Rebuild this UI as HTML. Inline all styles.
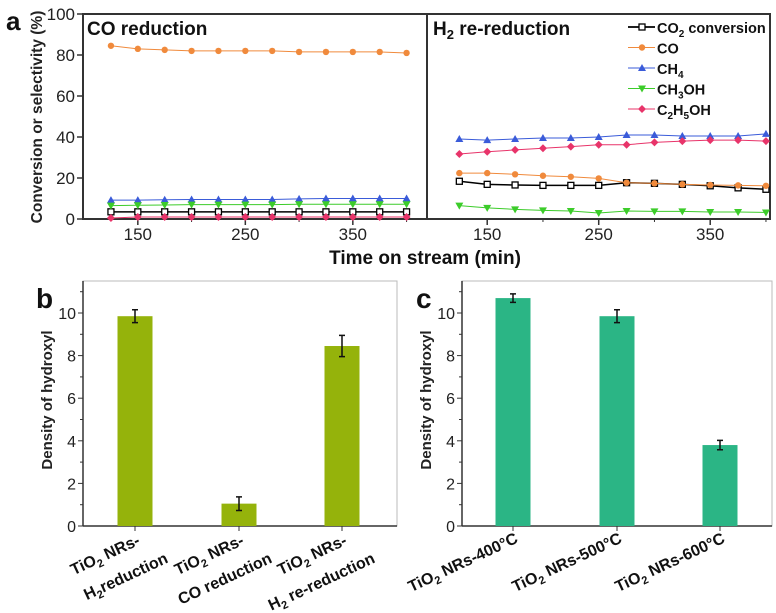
<!DOCTYPE html>
<html><head><meta charset="utf-8"><style>
body{margin:0;background:#fff}
svg{font-family:"Liberation Sans",sans-serif;display:block}
</style></head><body>
<svg id="fig" width="776" height="613" viewBox="0 0 776 613"></svg>
<script>
const times=[125,150,175,200,225,250,275,300,325,350,375,400];
const aCO2=[3.5,3.5,3.5,3.5,3.5,3.5,3.5,3.5,3.5,3.5,3.5,3.5];
const aCO=[84.5,83,82.5,82,82,82,82,81.5,81.5,81.5,81.5,81];
const aCH4=[9.2,9.2,9.4,9.5,9.5,9.5,9.5,9.8,10,10,10,10];
const aCH3OH=[6.5,6.7,6.8,7,7,7,7,7.2,7.2,7.2,7.2,7.2];
const aC2H5OH=[0.5,1,1,1,1,1,1,1,1,1,1,1];
const bCO2=[18.4,16.9,16.6,16.4,16.4,16.4,17.7,17.4,16.9,16.2,15.2,14.5];
const bCO=[22.4,22.4,21.8,21.1,20.6,19.8,17.7,17.4,16.9,16.6,16.4,16.2];
const bCH4=[39,38.5,39,39.5,39.5,40,41,41,40.5,40.5,40.5,41.5];
const bCH3OH=[6.5,5.4,4.7,4.2,3.9,2.9,3.9,3.7,3.7,3.4,3.4,3.2];
const bC2H5OH=[31.7,32.8,33.7,34.5,35.3,36.2,36.2,37.4,38,38.5,38.5,38];
const yTicksA=[0,20,40,60,80,100];
const xTicksA=[150,250,350];
const valB=[9.85,1.05,8.45];
const errB=[0.3,0.32,0.5];
const valC=[10.7,9.85,3.8];
const errC=[0.2,0.3,0.22];
const yTicksB=[0,2,4,6,8,10];

const NS="http://www.w3.org/2000/svg";
const svg=document.getElementById('fig');
function el(tag,attrs,parent,text){const e=document.createElementNS(NS,tag);for(const k in attrs)e.setAttribute(k,attrs[k]);if(text!==undefined)e.textContent=text;(parent||svg).appendChild(e);return e;}

// panel a
const yA=v=>219-v*2.05;
const xL=t=>83+(t-99)*1.075;
const xR=t=>427+(t-96)*1.115;
const pa=el('g',{});

const frame=el('rect',{x:83,y:14,width:687,height:205,fill:'none',stroke:'#333','stroke-width':2},pa);

el('line',{x1:427,y1:14,x2:427,y2:219,stroke:'#333','stroke-width':2},pa);
yTicksA.forEach(v=>{
  el('line',{x1:77,x2:83,y1:yA(v),y2:yA(v),stroke:'#333','stroke-width':1.5},pa);
  const t=el('text',{x:75,y:yA(v)+6,'text-anchor':'end','font-size':17,fill:'#222'},pa,v);
  
});
xTicksA.forEach(v=>{
  [xL,xR].forEach(f=>{
    el('line',{x1:f(v),x2:f(v),y1:219,y2:225,stroke:'#333','stroke-width':1.5},pa);
    const t=el('text',{x:f(v),y:240,'text-anchor':'middle','font-size':17,fill:'#222'},pa,v);
    
  });
  [xL,xR].forEach(f=>el('line',{x1:f(v+50),x2:f(v+50),y1:219,y2:222,stroke:'#333'},pa));
});
const yt=el('text',{transform:'translate(42,117) rotate(-90)','text-anchor':'middle','font-size':15.5,'font-weight':'bold',fill:'#222'},pa,'Conversion or selectivity (%)');

const xt=el('text',{x:425,y:264,'text-anchor':'middle','font-size':19,'font-weight':'bold',fill:'#111'},pa,'Time on stream (min)');

const la=el('text',{x:6,y:30,'font-size':26,'font-weight':'bold',fill:'#111'},pa,'a');

const t1=el('text',{x:87,y:35,'font-size':19,'font-weight':'bold',fill:'#111'},pa,'CO reduction');

const t2=el('text',{x:433,y:35,'font-size':19,'font-weight':'bold',fill:'#111'},pa);
t2.innerHTML='H<tspan font-size="13" dy="4">2</tspan><tspan dy="-4"> re-reduction</tspan>';


function marker(g,type,x,y,c){
  if(type==='sq')return el('rect',{x:x-3,y:y-3,width:6,height:6,fill:'#fff',stroke:'#000','stroke-width':1.3},g);
  if(type==='ci')return el('circle',{cx:x,cy:y,r:3.2,fill:c},g);
  if(type==='up')return el('polygon',{points:`${x},${y-4} ${x-4},${y+3} ${x+4},${y+3}`,fill:c},g);
  if(type==='dn')return el('polygon',{points:`${x},${y+4} ${x-4},${y-3} ${x+4},${y-3}`,fill:c},g);
  return el('polygon',{points:`${x},${y-4} ${x+4},${y} ${x},${y+4} ${x-4},${y}`,fill:c},g);
}
const series=[
 ['co2-conversion',aCO2,bCO2,'#000','sq'],
 ['co',aCO,bCO,'#f08a3c','ci'],
 ['ch4',aCH4,bCH4,'#3a5bd9','up'],
 ['ch3oh',aCH3OH,bCH3OH,'#3ccc2a','dn'],
 ['c2h5oh',aC2H5OH,bC2H5OH,'#e8346a','di']];
series.forEach(([n,da,db,c,m])=>{
  [[da,xL,'left'],[db,xR,'right']].forEach(([d,f,side])=>{
    const g=el('g',{},pa);
    
    el('polyline',{points:d.map((v,i)=>f(times[i])+','+yA(v)).join(' '),fill:'none',stroke:c,'stroke-width':n==='co2-conversion'?1.5:1},g);
    d.forEach((v,i)=>{const p=marker(g,m,f(times[i]),yA(v),c);});
  });
});
const legLabels=['CO<tspan font-size="10" dy="4">2</tspan><tspan dy="-4"> conversion</tspan>','CO','CH<tspan font-size="10" dy="4">4</tspan>','CH<tspan font-size="10" dy="4">3</tspan><tspan dy="-4">OH</tspan>','C<tspan font-size="10" dy="4">2</tspan><tspan dy="-4">H</tspan><tspan font-size="10" dy="4">5</tspan><tspan dy="-4">OH</tspan>'];
series.forEach(([n,,,c,m],i)=>{
  const y=27+i*20.5;
  const g=el('g',{},pa);
  
  el('line',{x1:628,x2:655,y1:y,y2:y,stroke:c,'stroke-width':n==='co2-conversion'?1.8:1},g);
  marker(g,m,642,y,c);
  const t=el('text',{x:657,y:y+6,'font-size':14.5,'font-weight':'bold',fill:'#111'},g);
  t.innerHTML=legLabels[i];
});

// bar panels
function barPanel(name,x0,x1,centers,vals,errs,color,labels,letter,lx){
  const g=el('g',{});
  
  const y=v=>526-v*21.3;
  el('rect',{x:x0,y:281,width:x1-x0,height:245,fill:'none',stroke:'#bbb','stroke-width':1},g);
  el('line',{x1:x0,x2:x0,y1:281,y2:526,stroke:'#333','stroke-width':1.5},g);
  el('line',{x1:x0,x2:x1,y1:526,y2:526,stroke:'#333','stroke-width':1.5},g);
  yTicksB.forEach(v=>{
    el('line',{x1:x0-5,x2:x0,y1:y(v),y2:y(v),stroke:'#333'},g);
    el('line',{x1:x0-3,x2:x0,y1:y(v+1),y2:y(v+1),stroke:'#333'},g);
    const t=el('text',{x:x0-7,y:y(v)+6,'text-anchor':'end','font-size':16,fill:'#222'},g,v);
    
  });
  const yt=el('text',{transform:`translate(${x0-31},400) rotate(-90)`,'text-anchor':'middle','font-size':15,'font-weight':'bold',fill:'#222'},g,'Density of hydroxyl');
  
  const L=el('text',{x:lx,y:308,'font-size':28,'font-weight':'bold',fill:'#111'},g,letter);
  
  vals.forEach((v,i)=>{
    const cx=centers[i];
    const b=el('rect',{x:cx-17.5,y:y(v),width:35,height:526-y(v),fill:color},g);
    
    const e=el('path',{d:`M${cx},${y(v+errs[i])}V${y(v-errs[i])}M${cx-3},${y(v+errs[i])}H${cx+3}M${cx-3},${y(v-errs[i])}H${cx+3}`,stroke:'#111','stroke-width':1.5,fill:'none'},g);
    
    el('line',{x1:cx,x2:cx,y1:526,y2:531,stroke:'#333'},g);
    const t=el('text',{transform:`translate(${cx+6},${labels[i][1]?544:542}) rotate(-25)`,'text-anchor':'end','font-size':16,'font-weight':'bold',fill:'#111'},g);
    t.innerHTML=labels[i][0];
    
    if(labels[i][1]){
      const t2=el('text',{transform:`translate(${cx+34},562) rotate(-25)`,'text-anchor':'end','font-size':16,'font-weight':'bold',fill:'#111'},g);
      t2.innerHTML=labels[i][1];
      
    }
  });
}
const sub='<tspan font-size="11" dy="4">2</tspan><tspan dy="-4">';
barPanel('panel-b',83,397,[135,239,342],valB,errB,'#95b30b',
 [['TiO'+sub+' NRs-</tspan>','H'+sub+'reduction</tspan>'],['TiO'+sub+' NRs-</tspan>','CO reduction'],['TiO'+sub+' NRs-</tspan>','H'+sub+' re-reduction</tspan>']],'b',36);
barPanel('panel-c',462,772,[513,617,720],valC,errC,'#2bb585',
 [['TiO'+sub+' NRs-400°C</tspan>'],['TiO'+sub+' NRs-500°C</tspan>'],['TiO'+sub+' NRs-600°C</tspan>']],'c',416);
</script>
</body></html>
